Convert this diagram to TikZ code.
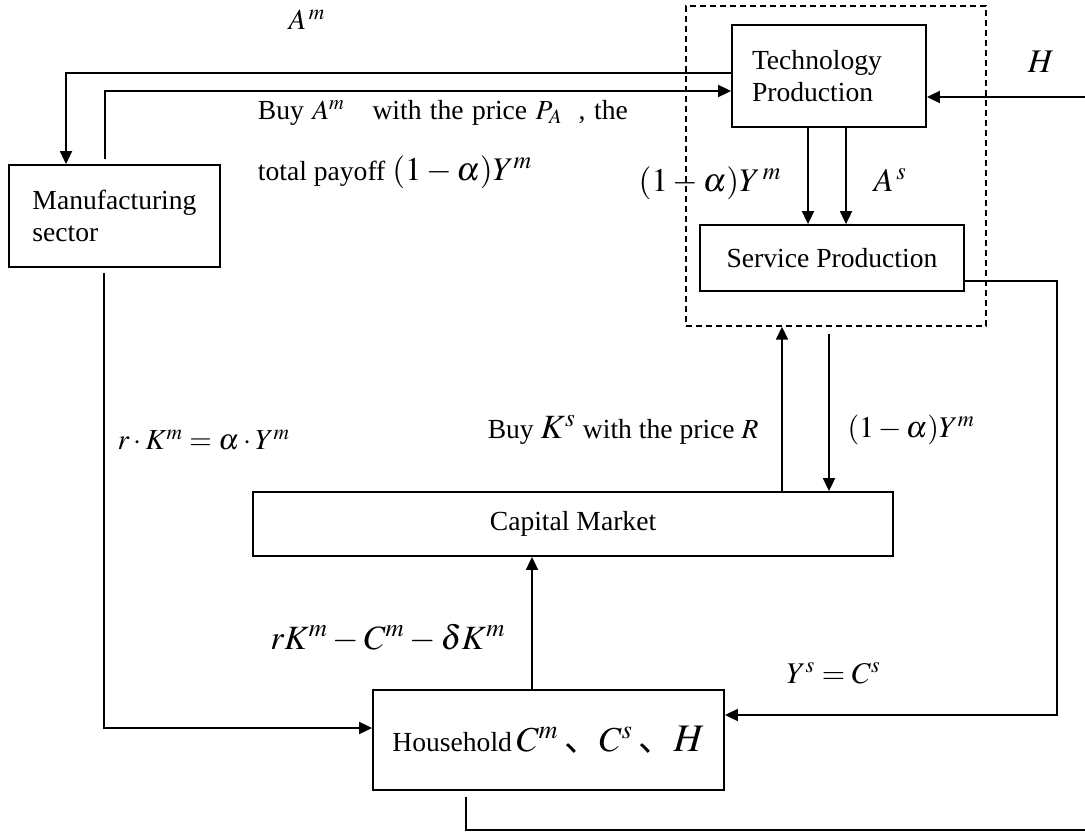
\documentclass[tikz,border=0pt]{standalone}
\usepackage{mathptmx}
\usepackage[no-math]{fontspec}
\setmainfont{Liberation Serif}
\newfontfamily\cjk{Noto Sans CJK SC}
\usetikzlibrary{arrows.meta}

\begin{document}
\begin{tikzpicture}[x=0.5pt,y=-0.5pt,line width=0.9pt,
  >={Triangle[length=6.5pt,width=6pt]},
  font=\fontsize{13.8}{16}\selectfont,
  box/.style={draw,rectangle,inner sep=0pt},
  big/.style={font=\fontsize{16.5}{19}\selectfont},
  mid/.style={font=\fontsize{15}{17}\selectfont}]

\useasboundingbox (0,0) rectangle (1085,834);

\node[box,dashed,dash pattern=on 3pt off 2pt,line width=0.7pt,minimum width=150pt,minimum height=160pt] (Svc) at (836,166) {};
\node[box,minimum width=97pt,minimum height=51pt,text width=77pt,align=left] (Tech) at (829,76) {Technology\\Production};
\node[box,minimum width=132pt,minimum height=33pt] (Serv) at (832,258) {Service Production};
\node[box,minimum width=105.5pt,minimum height=51pt,align=left] (Manu) at (114.5,216) {Manufacturing\\sector};
\node[box,minimum width=320pt,minimum height=32pt] (Cap) at (573,524) {Capital Market};
\node[box,minimum width=175.5pt,minimum height=50pt] (House) at (548.5,740)
  {Household\,{\fontsize{17.5}{20}\selectfont$C^m$\,{\cjk 、}$C^s$\,{\cjk 、}{\fontsize{19.5}{22}\selectfont$H$}}};

\node[font=\fontsize{14.5}{16}\selectfont] (lAm) at (307,20) {$A^{\,m}$};
\node[anchor=west,inner sep=0pt] (lBuyA) at (257,113)
  {\makebox[185pt][s]{Buy $A^m$\quad with the price $P_A$\; , the}};
\node[anchor=west,inner sep=0pt] (lPayA) at (257,172)
  {total payoff {\fontsize{16.5}{19}\selectfont$(1-\alpha)Y^m$}};
\node[big,anchor=east] (lPay) at (789,183) {$(1-\alpha)Y^{\,m}$};
\node[big,anchor=west] (lAs) at (866,180) {$A^{\,s}$};
\node[big] (lH) at (1041,62) {$H$};
\node[anchor=east] (lBuyK) at (766,430) {Buy {\fontsize{17}{19}\selectfont$K^s$} with the price $R$};
\node[mid,anchor=west] (lRet) at (840,430) {$(1-\alpha)Y^m$};
\node[font=\fontsize{14.5}{17}\selectfont,anchor=west] (lRent) at (110,440) {$r\cdot K^m=\alpha\cdot Y^m$};
\node[font=\fontsize{17}{19}\selectfont,anchor=east] (lSave) at (513,638) {$rK^m-C^m-\delta K^m$};
\node[mid,anchor=west] (lCons) at (779,673) {$Y^s=C^s$};

\coordinate (Hin) at (1085,97);
\coordinate (SvcOut) at (1057,281);
\coordinate (HhOut) at (1085,830);

\draw[->] ([yshift=1.5pt]Tech.west) -| ([xshift=-24.25pt]Manu.north);
\draw[->] ([xshift=-4.75pt,yshift=2.5pt]Manu.north) |- ([yshift=-7.5pt]Tech.west);
\draw[->] (Hin) -- (Hin -| Tech.east);
\draw[->] ([xshift=-10.5pt]Tech.south) -- ([xshift=-10.5pt]Tech.south |- Serv.north);
\draw[->] ([xshift=8.5pt]Tech.south) -- ([xshift=8.5pt]Tech.south |- Serv.north);
\draw[->] ([yshift=-11.5pt]Serv.east) -- (SvcOut) |- ([yshift=12.5pt]House.east);
\draw[->] ([xshift=-5.25pt,yshift=-2.5pt]Manu.south) |- ([yshift=6pt]House.west);
\draw[->] ([xshift=-8.25pt]House.north) -- ([xshift=-8.25pt]House.north |- Cap.south);
\draw[->] ([xshift=104.5pt]Cap.north) -- ([xshift=104.5pt]Cap.north |- Svc.south);
\draw[->] ([xshift=-3.5pt,yshift=-3.5pt]Svc.south) -- ([xshift=-3.5pt]Svc.south |- Cap.north);
\draw ([xshift=-41.25pt,yshift=-3pt]House.south) |- (HhOut);

\end{tikzpicture}
\end{document}
